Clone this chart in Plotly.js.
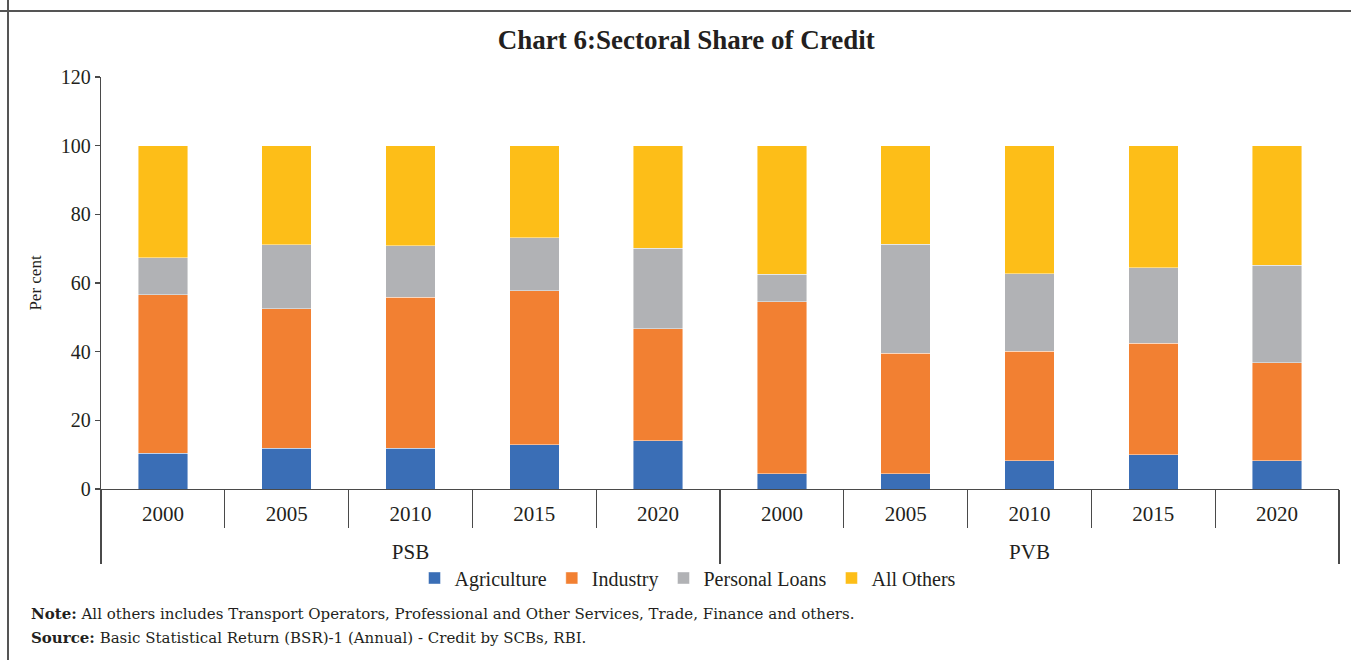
<!DOCTYPE html>
<html>
<head>
<meta charset="utf-8">
<script src="https://cdn.plot.ly/plotly-3.0.1.min.js"></script>
<style>
  html, body { margin: 0; padding: 0; background: #fff; }
  #chart { width: 1351px; height: 660px; }
</style>
</head>
<body>
<div id="chart"></div>
<script>
// ---- Data ----
const groups = ['PSB','PSB','PSB','PSB','PSB','PVB','PVB','PVB','PVB','PVB'];
const years  = ['2000','2005','2010','2015','2020','2000','2005','2010','2015','2020'];
const agriculture   = [10.4, 11.8, 11.8, 12.9, 14.0, 4.5, 4.5, 8.3, 10.0, 8.3];
const industry      = [46.2, 40.7, 44.0, 44.9, 32.7, 50.1, 35.1, 31.8, 32.5, 28.5];
const personalLoans = [10.8, 18.6, 15.0, 15.4, 23.4, 8.0, 31.7, 22.6, 22.0, 28.3];
const allOthers     = [32.6, 28.9, 29.2, 26.8, 29.9, 37.4, 28.7, 37.3, 35.5, 34.9];
const yTicks = [0, 20, 40, 60, 80, 100, 120];

// ---- Layout geometry ----
const W = 1351, H = 660;
const mL = 101, mR = 12, mT = 77, mB = 171;
const pw = W - mL - mR, ph = H - mT - mB;
const px = v => (v - mL) / pw;          // pixel x -> paper x
const py = v => (H - mB - v) / ph;      // pixel y -> paper y

const serif = '"Liberation Serif", "Times New Roman", serif';
const lineCol = '#4a4a4a';
const labelSize = 21;

// category labels displayed on the two-level axis (built from the plain arrays)
const sized = s => '<span style="font-size:' + labelSize + 'px">' + s + '</span>';
const xYears  = years.map(sized);
const xGroups = groups.map(g => '<br>' + sized(g));

function series(name, vals, color) {
  return {
    type: 'bar',
    name: name,
    x: [xGroups, xYears],
    y: vals,
    marker: { color: color, line: { color: 'rgba(255,255,255,0.55)', width: 0.8 } },
    hoverinfo: 'y+name'
  };
}

const data = [
  series('Agriculture', agriculture, '#3A6EB6'),
  series('Industry', industry, '#F28032'),
  series('Personal Loans', personalLoans, '#B1B2B5'),
  series('All Others', allOthers, '#FDBE18')
];

const layout = {
  width: W, height: H,
  margin: { l: mL, r: mR, t: mT, b: mB, pad: 0 },
  paper_bgcolor: '#fff', plot_bgcolor: '#fff',
  barmode: 'stack',
  bargap: 0.6,
  showlegend: true,
  font: { family: serif, color: '#231f20', size: 20 },
  title: {
    text: '<b>Chart 6:Sectoral Share of Credit</b>',
    font: { family: serif, size: 27, color: '#231f20' },
    x: 0.508, xanchor: 'center', xref: 'container',
    y: 1 - 40 / H, yanchor: 'middle', yref: 'container'
  },
  xaxis: {
    type: 'multicategory',
    showline: true, linecolor: lineCol, linewidth: 1.3,
    ticks: 'outside', tickson: 'boundaries', ticklen: 38, tickcolor: lineCol, tickwidth: 1.3,
    ticklabelstandoff: 10,
    showdividers: true, dividercolor: lineCol, dividerwidth: 1.3,
    showgrid: false, zeroline: false,
    tickfont: { family: serif, size: 17, color: '#231f20' }
  },
  yaxis: {
    range: [0, 120],
    tickvals: yTicks,
    ticktext: yTicks.map(String),
    showline: true, linecolor: lineCol, linewidth: 1.3,
    ticks: 'outside', ticklen: 5, tickcolor: lineCol, tickwidth: 1.3,
    showgrid: false, zeroline: false,
    tickfont: { family: serif, size: 20, color: '#231f20' },
    title: { text: 'Per cent', font: { family: serif, size: 17, color: '#231f20' }, standoff: 14 }
  },
  legend: {
    orientation: 'h',
    traceorder: 'normal',
    x: px(688), xanchor: 'center',
    y: py(578), yanchor: 'middle',
    font: { family: serif, size: 20, color: '#231f20' },
    itemwidth: 30, tracegroupgap: 0,
    bgcolor: 'rgba(0,0,0,0)'
  },
  annotations: [
    {
      xref: 'paper', yref: 'paper', x: px(29), y: py(614), xanchor: 'left', yanchor: 'middle',
      showarrow: false, align: 'left',
      text: '<b>Note:</b> All others includes Transport Operators, Professional and Other Services, Trade, Finance and others.',
      font: { family: '"DejaVu Serif", serif', size: 15, color: '#231f20' }
    },
    {
      xref: 'paper', yref: 'paper', x: px(29), y: py(638), xanchor: 'left', yanchor: 'middle',
      showarrow: false, align: 'left',
      text: '<b>Source:</b> Basic Statistical Return (BSR)-1 (Annual) - Credit by SCBs, RBI.',
      font: { family: '"DejaVu Serif", serif', size: 15, color: '#231f20' }
    }
  ],
  shapes: [
    { type: 'line', xref: 'paper', yref: 'paper', x0: px(0), x1: px(W), y0: py(11), y1: py(11),
      line: { color: '#555', width: 2 } },
    { type: 'line', xref: 'paper', yref: 'paper', x0: px(8), x1: px(8), y0: py(0), y1: py(H),
      line: { color: '#555', width: 2 } }
  ]
};

Plotly.newPlot('chart', data, layout, { displayModeBar: false, staticPlot: true });
</script>
</body>
</html>
